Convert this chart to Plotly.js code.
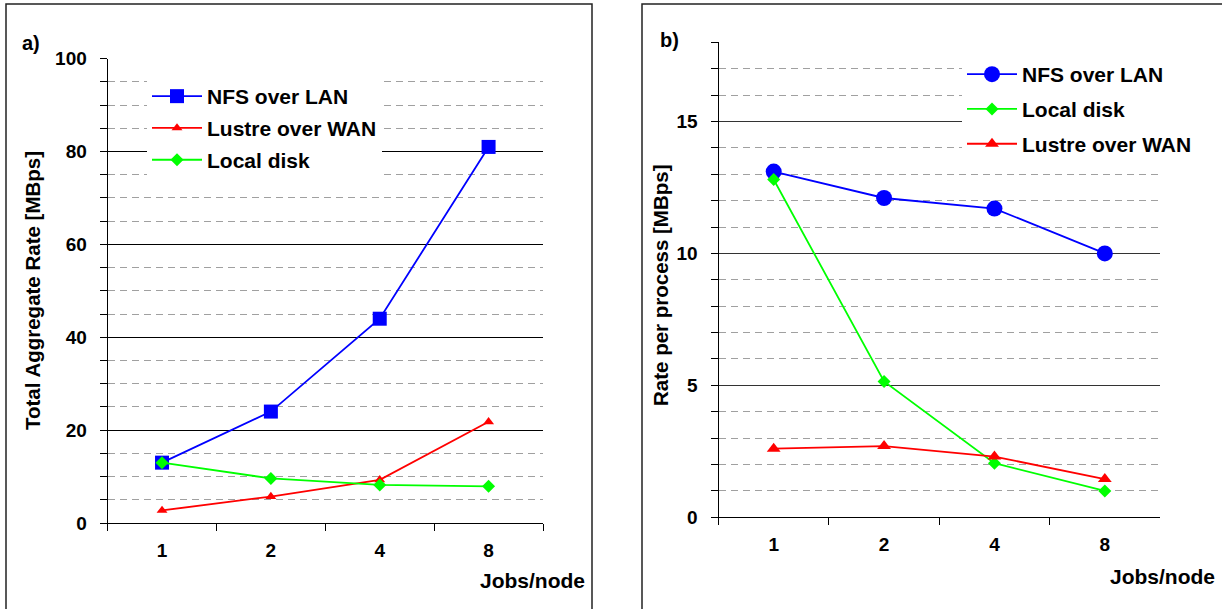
<!DOCTYPE html>
<html>
<head>
<meta charset="utf-8">
<script src="https://cdn.plot.ly/plotly-3.0.1.min.js"></script>
<style>html,body{margin:0;padding:0;background:#fff;}#chart{width:1222px;height:609px;}</style>
</head>
<body>
<div id="chart"></div>
<script>
// ---- data ----
const jobsPerNode = ['1', '2', '4', '8'];

// panel a) Total aggregate rate [MBps]
const aggNFS = [13, 24, 44, 81];
const aggLustre = [2.7, 5.7, 9.3, 21.8];
const aggLocal = [13, 9.6, 8.2, 7.9];

// panel b) Rate per process [MBps]
const procNFS = [13.1, 12.1, 11.7, 10.0];
const procLocal = [12.8, 5.15, 2.05, 1.0];
const procLustre = [2.6, 2.7, 2.3, 1.45];

const seriesNames = ['NFS over LAN', 'Lustre over WAN', 'Local disk'];
const xTitle = 'Jobs/node';
const yTitleA = 'Total Aggregate Rate [MBps]';
const yTitleB = 'Rate per process [MBps]';

const W = 1222, H = 609;
const FONT = 'Liberation Sans, Arial, sans-serif';
const px = v => v / W;
const py = v => 1 - v / H;

function tr(x, y, name, color, symbol, size, xa, ya, legend, group) {
  return {
    x: x, y: y, name: name, type: 'scatter', mode: 'lines+markers',
    xaxis: xa, yaxis: ya, legend: legend, legendgroup: group,
    line: {color: color, width: 1.8},
    marker: {color: color, symbol: symbol, size: size, line: {width: 0}},
    cliponaxis: false, hoverinfo: 'skip'
  };
}

const traces = [
  tr(jobsPerNode, aggNFS, seriesNames[0], '#0000ff', 'square', 14, 'x', 'y', 'legend', 'a1'),
  tr(jobsPerNode, aggLustre, seriesNames[1], '#ff0000', 'triangle-up', 9.5, 'x', 'y', 'legend', 'a2'),
  tr(jobsPerNode, aggLocal, seriesNames[2], '#00ff00', 'diamond', 10, 'x', 'y', 'legend', 'a3'),
  tr(jobsPerNode, procNFS, seriesNames[0], '#0000ff', 'circle', 16, 'x2', 'y2', 'legend2', 'b1'),
  tr(jobsPerNode, procLocal, seriesNames[2], '#00ff00', 'diamond', 10, 'x2', 'y2', 'legend2', 'b2'),
  tr(jobsPerNode, procLustre, seriesNames[1], '#ff0000', 'triangle-up', 12, 'x2', 'y2', 'legend2', 'b3')
];

const tickFont = {family: FONT, size: 19, color: '#000', weight: 700};

function xAxis(domain, anchor) {
  return {
    type: 'category', domain: domain, anchor: anchor, range: [-0.5, 3.5], autorange: false,
    tickson: 'boundaries', ticks: 'outside', ticklen: 7, tickwidth: 1, tickcolor: '#000',
    showline: true, linecolor: '#000', linewidth: 1, mirror: false,
    showgrid: false, zeroline: false, tickfont: tickFont, ticklabelstandoff: 10,
    fixedrange: true
  };
}
function yAxis(domain, anchor, range, major, minor, majorColor) {
  return {
    domain: domain, anchor: anchor, range: range, autorange: false, dtick: major, tick0: 0,
    ticks: 'outside', ticklen: 7, tickwidth: 1, tickcolor: '#000',
    showline: true, linecolor: '#000', linewidth: 1,
    showgrid: true, gridcolor: majorColor, gridwidth: 1,
    zeroline: false, tickfont: tickFont, ticklabelstandoff: 9,
    minor: {dtick: minor, tick0: 0, ticks: 'outside', ticklen: 7, tickcolor: '#000',
            showgrid: true, gridcolor: '#a0a0a0', gridwidth: 1, griddash: '7px,5px'},
    fixedrange: true
  };
}

const legFont = {family: FONT, size: 21, color: '#000', weight: 700};

const layout = {
  width: W, height: H,
  margin: {l: 0, r: 0, t: 0, b: 0},
  paper_bgcolor: '#fff', plot_bgcolor: 'rgba(0,0,0,0)',
  showlegend: true,
  xaxis: xAxis([px(107.6), px(543)], 'y'),
  yaxis: yAxis([py(523), py(58.7)], 'x', [0, 100], 20, 5, '#000'),
  xaxis2: xAxis([px(718.5), px(1160)], 'y2'),
  yaxis2: yAxis([py(517.3), py(42.3)], 'x2', [0, 18], 5, 1, '#333'),
  legend: {
    x: px(147), y: py(76), xanchor: 'left', yanchor: 'top',
    bgcolor: '#fff', borderwidth: 0, font: legFont,
    itemwidth: 50, tracegroupgap: 1.5, traceorder: 'grouped', itemclick: false
  },
  legend2: {
    x: px(962), y: py(54), xanchor: 'left', yanchor: 'top',
    bgcolor: '#fff', borderwidth: 0, font: legFont,
    itemwidth: 50, tracegroupgap: 4.5, traceorder: 'grouped', itemclick: false
  },
  shapes: [
    {type: 'rect', xref: 'paper', yref: 'paper', x0: px(6), x1: px(592), y0: -0.1, y1: py(4),
     line: {color: '#222', width: 1.5}, fillcolor: 'rgba(0,0,0,0)', layer: 'below'},
    {type: 'rect', xref: 'paper', yref: 'paper', x0: px(642), x1: 1.1, y0: -0.1, y1: py(4),
     line: {color: '#222', width: 1.5}, fillcolor: 'rgba(0,0,0,0)', layer: 'below'}
  ],
  annotations: [
    {text: 'a)', xref: 'paper', yref: 'paper', x: px(31), y: py(43), showarrow: false,
     xanchor: 'center', yanchor: 'middle', font: {family: FONT, size: 20, weight: 700, color: '#000'}},
    {text: 'b)', xref: 'paper', yref: 'paper', x: px(669), y: py(40), showarrow: false,
     xanchor: 'center', yanchor: 'middle', font: {family: FONT, size: 20, weight: 700, color: '#000'}},
    {text: yTitleA, xref: 'paper', yref: 'paper', x: px(32), y: py(291), textangle: -90, showarrow: false,
     xanchor: 'center', yanchor: 'middle', font: {family: FONT, size: 20.5, weight: 700, color: '#000'}},
    {text: yTitleB, xref: 'paper', yref: 'paper', x: px(660), y: py(285), textangle: -90, showarrow: false,
     xanchor: 'center', yanchor: 'middle', font: {family: FONT, size: 20.5, weight: 700, color: '#000'}},
    {text: xTitle, xref: 'paper', yref: 'paper', x: px(587), y: py(580), showarrow: false,
     xanchor: 'right', yanchor: 'middle', font: {family: FONT, size: 21, weight: 700, color: '#000'}},
    {text: xTitle, xref: 'paper', yref: 'paper', x: px(1217), y: py(576), showarrow: false,
     xanchor: 'right', yanchor: 'middle', font: {family: FONT, size: 21, weight: 700, color: '#000'}}
  ]
};

Plotly.newPlot('chart', traces, layout, {displayModeBar: false, staticPlot: true});
</script>
</body>
</html>
